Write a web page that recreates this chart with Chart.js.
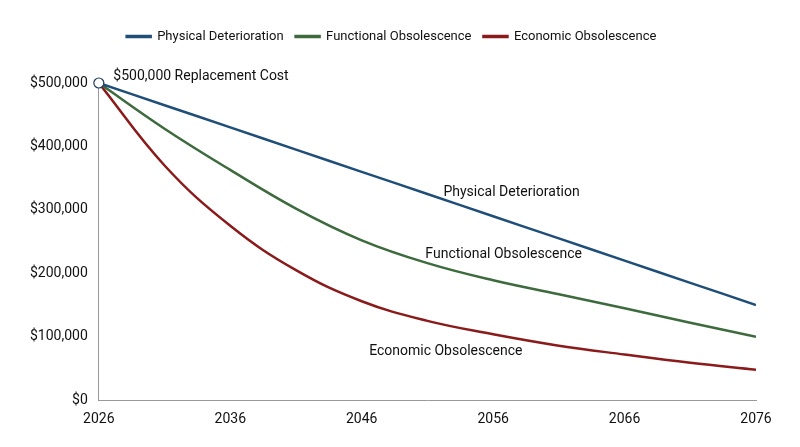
<!DOCTYPE html>
<html>
<head>
<meta charset="utf-8">
<script src="https://cdn.jsdelivr.net/npm/chart.js@4"></script>
<style>
  html, body { margin: 0; padding: 0; background: #fff; }
  #wrap { width: 800px; height: 447px; }
</style>
</head>
<body>
<div id="wrap"><canvas id="chart"></canvas></div>
<script>
const years = [2026, 2031, 2036, 2041, 2046, 2051, 2056, 2061, 2066, 2071, 2076];
const physical = [500000, 465000, 430000, 395000, 360000, 325000, 290000, 255000, 220000, 185000, 150000];
const functional = [500000, 428000, 363000, 302000, 252000, 216000, 189000, 167000, 145000, 122000, 100000];
const economic = [500000, 370000, 275000, 205000, 156000, 125000, 104000, 86000, 72000, 59000, 48000];
const xTicks = [2026, 2036, 2046, 2056, 2066, 2076];

// inline labels: [text, year, value, align]
const notes = [
  ['Physical Deterioration', 2057.4, 328000, 'center'],
  ['Functional Obsolescence', 2056.8, 229000, 'center'],
  ['Economic Obsolescence', 2052.4, 76000, 'center'],
  ['$500,000 Replacement Cost', 2027.1, 511000, 'left']
];

const toPts = arr => arr.map((v, i) => ({ x: years[i], y: v }));

const notesPlugin = {
  id: 'notes',
  afterDatasetsDraw(chart) {
    const { ctx, scales: { x, y } } = chart;
    ctx.save();
    ctx.font = '14px Roboto';
    ctx.fillStyle = '#111';
    ctx.textBaseline = 'middle';
    notes.forEach(([t, xv, yv, al]) => {
      ctx.textAlign = al;
      ctx.fillText(t, x.getPixelForValue(xv), y.getPixelForValue(yv));
    });
    // start marker
    ctx.beginPath();
    ctx.arc(x.getPixelForValue(years[0]), y.getPixelForValue(physical[0]), 5, 0, Math.PI * 2);
    ctx.fillStyle = '#fff';
    ctx.fill();
    ctx.lineWidth = 1.2;
    ctx.strokeStyle = '#1f3a5f';
    ctx.stroke();
    ctx.restore();
  }
};

// extra room under the legend
const legendGap = {
  id: 'legendGap',
  beforeInit(chart) {
    const fit = chart.legend.fit;
    chart.legend.fit = function () { fit.bind(chart.legend)(); this.height += 30; };
  }
};

const line = (label, data, color) => ({
  label, data: toPts(data), borderColor: color, backgroundColor: color,
  borderWidth: 2.5, pointRadius: 0, tension: 0.4, fill: false
});

new Chart(document.getElementById('chart'), {
  type: 'line',
  data: {
    datasets: [
      line('Physical Deterioration', physical, '#1f4e79'),
      line('Functional Obsolescence', functional, '#3d6b3d'),
      line('Economic Obsolescence', economic, '#8b1a1a')
    ]
  },
  options: {
    responsive: true,
    maintainAspectRatio: false,
    animation: false,
    layout: { padding: { left: 27, right: 44, top: 18, bottom: 16 } },
    plugins: {
      legend: {
        position: 'top',
        labels: { boxWidth: 24, boxHeight: 1, color: '#111', font: { family: 'Roboto', size: 13 }, padding: 12 }
      },
      tooltip: { enabled: false }
    },
    scales: {
      x: {
        type: 'linear', min: 2026, max: 2076,
        afterBuildTicks: s => { s.ticks = xTicks.map(v => ({ value: v })); },
        ticks: { color: '#111', font: { family: 'Roboto', size: 14 }, callback: v => String(v) },
        grid: { display: false },
        border: { color: '#999' }
      },
      y: {
        min: 0, max: 500000,
        ticks: { stepSize: 100000, color: '#111', font: { family: 'Roboto', size: 14 },
          callback: v => '$' + v.toLocaleString('en-US') },
        grid: { display: false },
        border: { color: '#999' }
      }
    }
  },
  plugins: [notesPlugin, legendGap]
});
</script>
</body>
</html>
